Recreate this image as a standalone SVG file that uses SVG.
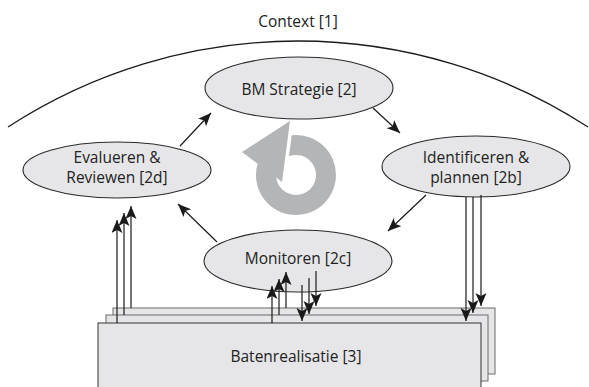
<svg xmlns="http://www.w3.org/2000/svg" width="589" height="387" viewBox="0 0 589 387">
<defs>
<style>
.t{font-family:"Open Sans","Noto Sans","Liberation Sans",sans-serif;font-size:15.5px;fill:#222;text-anchor:middle}
.n{fill:#e6e6e8;stroke:#2a2a2a;stroke-width:1.1}
.rb{fill:#e6e6e8;stroke:#6a6a6a;stroke-width:1}
.rf{fill:#e6e6e8;stroke:#333;stroke-width:1}
.c{fill:none;stroke:#1a1a1a;stroke-width:1.2;marker-end:url(#ah)}
</style>
<marker id="ah" markerUnits="userSpaceOnUse" markerWidth="15" markerHeight="12" refX="13" refY="5.5" orient="auto">
<path d="M0,0 L13,5.5 L0,11 L3,5.5 z" fill="#1a1a1a"/>
</marker>
</defs>
<rect width="589" height="387" fill="#fff"/>
<g id="context">
<path d="M8,127 A532,532 0 0 1 588,127" fill="none" stroke="#1a1a1a" stroke-width="1.3"/>
<text class="t" x="298" y="27">Context [1]</text>
</g>
<g id="cycle">
<path transform="translate(296,175)" fill="#b4b5b7" d="M-4.3,-39.8 A40,40 0 1 1 -38.4,-11.3 L-54,-23 L-6,-54 L-14,7 L-19.8,2.6 A20,20 0 1 0 -7.06,-18.7 Z"/>
</g>
<g id="batenrealisatie">
<rect class="rb" x="113" y="308" width="382" height="66"/>
<rect class="rb" x="106" y="315" width="382" height="66"/>
<rect class="rf" x="98" y="323" width="383" height="70"/>
<text class="t" x="296" y="362">Batenrealisatie [3]</text>
</g>
<g id="bm-strategie">
<ellipse class="n" cx="299" cy="88" rx="94" ry="31"/>
<text class="t" x="299" y="95">BM Strategie [2]</text>
</g>
<g id="evalueren">
<ellipse class="n" cx="117" cy="170" rx="94" ry="28"/>
<text class="t" x="117" y="163">Evalueren &amp;</text>
<text class="t" x="117" y="183">Reviewen [2d]</text>
</g>
<g id="identificeren">
<ellipse class="n" cx="476" cy="166.5" rx="94" ry="30.5"/>
<text class="t" x="476" y="163">Identificeren &amp;</text>
<text class="t" x="476" y="183">plannen [2b]</text>
</g>
<g id="monitoren">
<ellipse class="n" cx="298" cy="261" rx="94" ry="31"/>
<text class="t" x="298" y="264">Monitoren [2c]</text>
</g>
<g id="connectors">
<path class="c" d="M180,146 L211,113"/>
<path class="c" d="M373,108 L400,133"/>
<path class="c" d="M426,195 L388,231"/>
<path class="c" d="M217,242 L178,204"/>
<path class="c" d="M117,323 L117,220"/>
<path class="c" d="M124,315 L124,213"/>
<path class="c" d="M131,308 L131,206"/>
<path class="c" d="M466,197 L466,321"/>
<path class="c" d="M473,197 L473,313"/>
<path class="c" d="M481,195 L481,306"/>
<path class="c" d="M272,323 L272,286"/>
<path class="c" d="M279,315 L279,279"/>
<path class="c" d="M286,308 L286,272"/>
<path class="c" d="M302,285 L302,321"/>
<path class="c" d="M309,278 L309,314"/>
<path class="c" d="M316,271 L316,306"/>
</g>
</svg>
